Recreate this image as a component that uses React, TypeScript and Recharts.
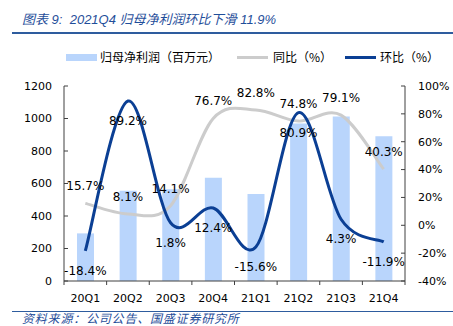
import {
  ComposedChart,
  Bar,
  Line,
  XAxis,
  YAxis,
  LabelList,
} from 'recharts';

const quarters = ['20Q1', '20Q2', '20Q3', '20Q4', '21Q1', '21Q2', '21Q3', '21Q4'];
const netProfit = [293, 555, 565, 635, 536, 970, 1012, 891];
const yoy = [15.7, 8.1, 14.1, 76.7, 82.8, 74.8, 79.1, 40.3];
const qoq = [-18.4, 89.2, 1.8, 12.4, -15.6, 80.9, 4.3, -11.9];
const leftTicks = [0, 200, 400, 600, 800, 1000, 1200];
const rightTicks = [-40, -20, 0, 20, 40, 60, 80, 100];
const seriesNames = ['归母净利润（百万元）', '同比（%）', '环比（%）'];

const W = 453;
const H = 326;
const PLOT_LEFT = 64;
const PLOT_RIGHT = 405;
const PLOT_TOP = 86;
const PLOT_BOTTOM = 281;

const BAR_COLOR = '#B9D5FC';
const GRAY = '#CCCCCC';
const BLUE = '#0B3F94';
const TITLE_BLUE = '#1F4E9A';
const AXIS = '#404040';
const FONT = '"DejaVu Sans", sans-serif';
const CJK = '"Liberation Sans", "Noto Sans CJK SC", sans-serif';

const data = quarters.map((q, i) => ({
  q,
  profit: netProfit[i],
  yoy: yoy[i],
  qoq: qoq[i],
}));

// Excel-like smoothed line (Catmull-Rom through the points)
function smoothCurve(context: any) {
  let pts: number[][] = [];
  return {
    areaStart() {},
    areaEnd() {},
    lineStart() {
      pts = [];
    },
    point(x: number, y: number) {
      pts.push([+x, +y]);
    },
    lineEnd() {
      if (!pts.length) return;
      context.moveTo(pts[0][0], pts[0][1]);
      for (let i = 0; i < pts.length - 1; i++) {
        const p0 = pts[i - 1] || pts[i];
        const p1 = pts[i];
        const p2 = pts[i + 1];
        const p3 = pts[i + 2] || p2;
        context.bezierCurveTo(
          p1[0] + (p2[0] - p0[0]) / 6,
          p1[1] + (p2[1] - p0[1]) / 6,
          p2[0] - (p3[0] - p1[0]) / 6,
          p2[1] - (p3[1] - p1[1]) / 6,
          p2[0],
          p2[1],
        );
      }
    },
  };
}

const labelAbove = (props: any) => (
  <text x={props.x} y={props.y - 13} textAnchor="middle" fontSize={12} fontFamily={FONT} fill="#000">
    {Number(props.value).toFixed(1)}%
  </text>
);

const labelBelow = (props: any) => (
  <text x={props.x} y={props.y + 24} textAnchor="middle" fontSize={12} fontFamily={FONT} fill="#000">
    {Number(props.value).toFixed(1)}%
  </text>
);

const band = (PLOT_RIGHT - PLOT_LEFT) / quarters.length;

const QuarterTick = (props: any) => {
  const { x, payload, index } = props;
  return (
    <g>
      <line x1={x - band / 2} x2={x - band / 2} y1={PLOT_BOTTOM} y2={PLOT_BOTTOM + 4} stroke={AXIS} />
      {index === quarters.length - 1 && (
        <line x1={x + band / 2} x2={x + band / 2} y1={PLOT_BOTTOM} y2={PLOT_BOTTOM + 4} stroke={AXIS} />
      )}
      <text x={x} y={PLOT_BOTTOM + 21} textAnchor="middle" fontSize={11} fontFamily={FONT} fill="#000">
        {payload.value}
      </text>
    </g>
  );
};

export default function App() {
  const swatches = [
    { name: seriesNames[0], left: 66, textLeft: 100, color: BAR_COLOR, h: 7 },
    { name: seriesNames[1], left: 237, textLeft: 273, color: GRAY, h: 3 },
    { name: seriesNames[2], left: 345, textLeft: 380, color: BLUE, h: 3 },
  ];
  return (
    <div style={{ position: 'absolute', left: 0, top: 0, width: W, height: H, background: '#fff' }}>
      <div
        style={{
          position: 'absolute',
          left: 22,
          top: 11,
          fontSize: 13,
          fontStyle: 'italic',
          color: TITLE_BLUE,
          fontFamily: CJK,
          whiteSpace: 'nowrap',
          lineHeight: '18px',
        }}
      >
        图表 9:&nbsp; 2021Q4 归母净利润环比下滑 11.9%
      </div>
      <div style={{ position: 'absolute', left: 12, top: 32, width: W - 12, height: 2, background: '#2E5C9E' }} />

      {swatches.map((s) => (
        <div key={s.name}>
          <div
            style={{
              position: 'absolute',
              left: s.left,
              top: 57 - s.h / 2,
              width: 31,
              height: s.h,
              background: s.color,
            }}
          />
          <div
            style={{
              position: 'absolute',
              left: s.textLeft,
              top: 49,
              fontSize: 12,
              lineHeight: '16px',
              fontFamily: '"Noto Sans CJK SC", sans-serif',
              color: '#000',
              whiteSpace: 'nowrap',
            }}
          >
            {s.name}
          </div>
        </div>
      ))}

      <div style={{ position: 'absolute', left: 0, top: 0 }}>
        <ComposedChart
          width={W}
          height={H}
          data={data}
          margin={{ top: PLOT_TOP, right: 0, left: 0, bottom: H - PLOT_BOTTOM - 24 }}
        >
          <XAxis
            dataKey="q"
            height={24}
            tick={<QuarterTick />}
            tickLine={false}
            axisLine={{ stroke: AXIS }}
            interval={0}
          />
          <YAxis
            yAxisId="left"
            width={PLOT_LEFT}
            domain={[0, 1200]}
            ticks={leftTicks}
            tickSize={-4}
            tickMargin={16}
            tick={{ fontSize: 11, fill: '#000', fontFamily: FONT }}
            axisLine={{ stroke: AXIS }}
            tickLine={{ stroke: AXIS }}
          />
          <YAxis
            yAxisId="right"
            orientation="right"
            width={W - PLOT_RIGHT}
            domain={[-40, 100]}
            ticks={rightTicks}
            tickFormatter={(v: number) => `${v}%`}
            tickSize={-4}
            tickMargin={17}
            tick={{ fontSize: 11, fill: '#000', fontFamily: FONT, textAnchor: 'start' }}
            axisLine={{ stroke: AXIS }}
            tickLine={{ stroke: AXIS }}
          />
          <Bar yAxisId="left" dataKey="profit" fill={BAR_COLOR} barSize={17} isAnimationActive={false} />
          <Line
            yAxisId="right"
            dataKey="yoy"
            type={smoothCurve as any}
            stroke={GRAY}
            strokeWidth={3}
            dot={false}
            isAnimationActive={false}
          >
            <LabelList dataKey="yoy" content={labelAbove} />
          </Line>
          <Line
            yAxisId="right"
            dataKey="qoq"
            type={smoothCurve as any}
            stroke={BLUE}
            strokeWidth={3}
            dot={false}
            isAnimationActive={false}
          >
            <LabelList dataKey="qoq" content={labelBelow} />
          </Line>
        </ComposedChart>
      </div>

      <div style={{ position: 'absolute', left: 12, top: 311, width: W - 12, height: 1, background: '#2E5C9E' }} />
      <div
        style={{
          position: 'absolute',
          left: 22,
          top: 312,
          fontSize: 12,
          letterSpacing: '0.8px',
          fontStyle: 'italic',
          color: TITLE_BLUE,
          fontFamily: CJK,
          whiteSpace: 'nowrap',
          lineHeight: '14px',
        }}
      >
        资料来源：公司公告、国盛证券研究所
      </div>
    </div>
  );
}
